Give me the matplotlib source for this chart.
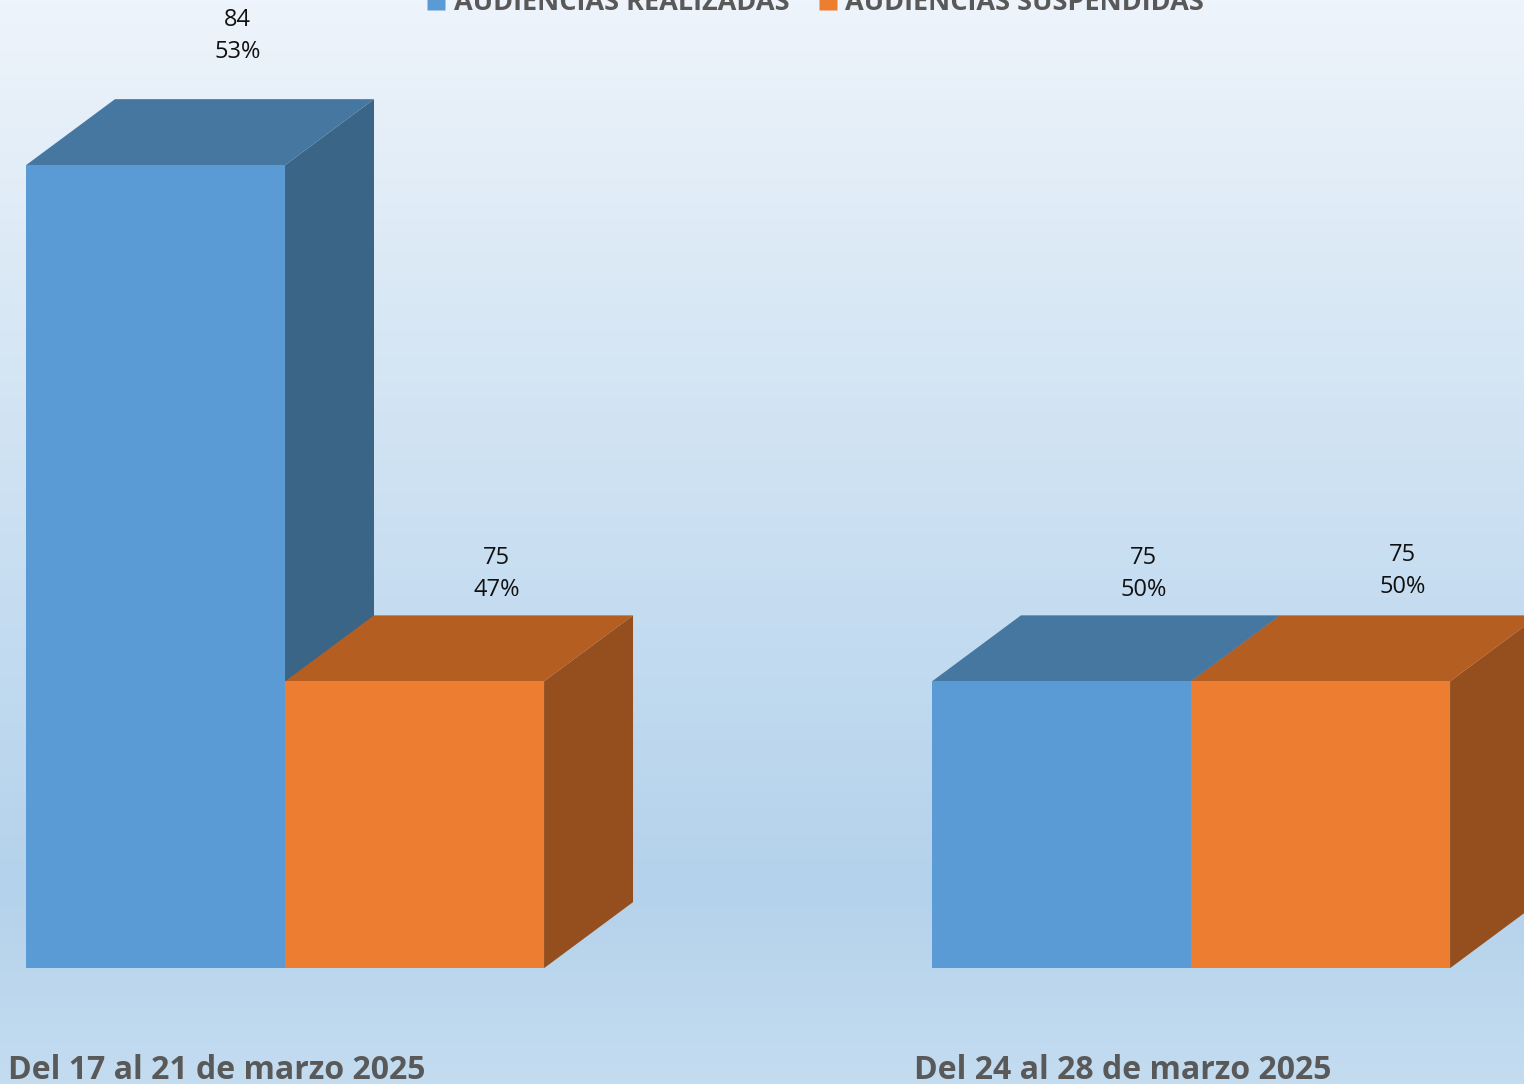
import matplotlib
matplotlib.use("Agg")
import matplotlib.pyplot as plt
import numpy as np
from matplotlib.patches import Polygon
from matplotlib.lines import Line2D
from matplotlib.colors import LinearSegmentedColormap
import matplotlib.transforms as mtransforms

plt.rcParams["font.family"] = ["Open Sans", "DejaVu Sans"]

# data
categories = ["Del 17 al 21 de marzo 2025", "Del 24 al 28 de marzo 2025"]
series = ["AUDIENCIAS REALIZADAS", "AUDIENCIAS SUSPENDIDAS"]
realizadas = [84, 75]
suspendidas = [75, 75]
pct_realizadas = ["53%", "50%"]
pct_suspendidas = ["47%", "50%"]

# styles: (front, top, side)
colors = [("#5B9BD5", "#4577A1", "#3A6587"),
          ("#ED7D31", "#B55E22", "#954F1E")]
# label lift above the back edge of the top face, in pixels
label_lift = [[35, 13], [13, 16]]

W, H = 1524, 1084
fig = plt.figure(figsize=(W / 100, H / 100), dpi=100)

# background gradient
bg = fig.add_axes([0, 0, 1, 1])
bg.set_axis_off()
cmap = LinearSegmentedColormap.from_list(
    "bg", [(0, "#EEF4FB"), (0.28, "#D9E8F5"), (0.55, "#C6DDF1"),
           (0.82, "#B4D2EB"), (1.0, "#C4DCF0")])
bg.imshow(np.linspace(0, 1, 256).reshape(-1, 1), aspect="auto", cmap=cmap,
          extent=[0, 1, 0, 1], origin="upper")
bg.set_xlim(0, 1)
bg.set_ylim(0, 1)

ax = fig.add_axes([0, 0, 1, 1])
ax.patch.set_alpha(0)
ax.set_axis_off()
ax.set_xlim(-0.3146, 1.3675)
ax.set_ylim(67.98, 86.88)

base = 70
width = 0.2859
dx, dy = 0.0982, 1.151
x = np.arange(len(categories))

for si, (vals, pcts) in enumerate([(realizadas, pct_realizadas),
                                   (suspendidas, pct_suspendidas)]):
    front, top, side = colors[si]
    for ci, v in enumerate(vals):
        x0 = x[ci] - width + si * width
        x1 = x0 + width
        # side face
        ax.add_patch(Polygon([(x1, base), (x1 + dx, base + dy),
                              (x1 + dx, v + dy), (x1, v)],
                             closed=True, fc=side, ec="none", zorder=2 + si))
        # top face
        ax.add_patch(Polygon([(x0, v), (x0 + dx, v + dy),
                              (x1 + dx, v + dy), (x1, v)],
                             closed=True, fc=top, ec="none", zorder=2 + si))
        ax.bar(x0, v - base, bottom=base, width=width, align="edge",
               color=front, zorder=3 + si)
        lift = mtransforms.offset_copy(ax.transData, fig=fig, x=-7,
                                       y=label_lift[si][ci], units="dots")
        ax.text((x0 + x1) / 2 + dx, v + dy, f"{v}\n{pcts[ci]}",
                transform=lift, ha="center", va="bottom", fontsize=17,
                color="#111111", linespacing=1.45, zorder=6)

# category labels
offset = mtransforms.offset_copy(ax.transData, fig=fig, x=-68, y=0, units="dots")
for ci, cat in enumerate(categories):
    ax.text(x[ci], 67.98 + 0.09, cat, transform=offset, ha="center",
            va="baseline", fontsize=23, fontweight="bold", color="#595959")

# legend (cut off at the top edge, as in the source)
handles = [Line2D([0], [0], marker="s", linestyle="none", markersize=12.5,
                  markerfacecolor=colors[i][0], markeredgecolor="none",
                  label=series[i]) for i in range(2)]
leg = fig.legend(handles=handles, loc="center", ncol=2, frameon=False,
                 bbox_to_anchor=(0.5338, 1 - 3 / H),
                 prop={"size": 19.5, "weight": "bold"},
                 handletextpad=0.15, columnspacing=0.9, handlelength=1.0)
for t in leg.get_texts():
    t.set_color("#595959")

fig.savefig("out.png", dpi=100)
